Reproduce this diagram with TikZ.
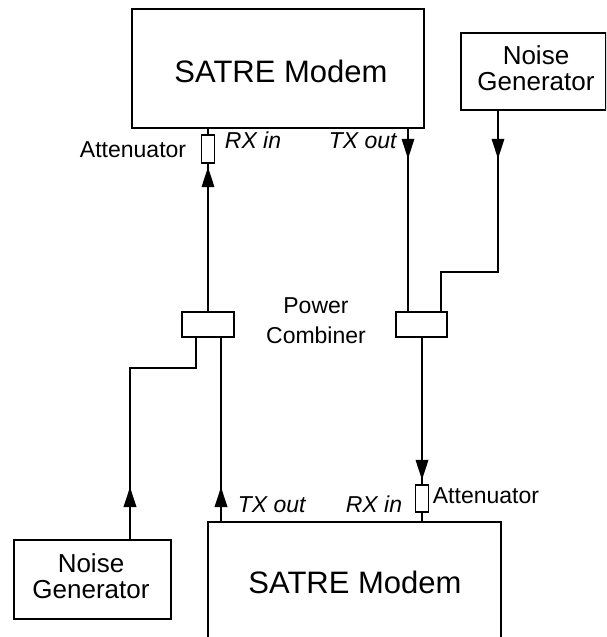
\documentclass[tikz,border=0pt]{standalone}
\usepackage{fontspec}
\setmainfont{Liberation Sans}
\usetikzlibrary{arrows.meta,decorations.markings}
\tikzset{
  box/.style={draw, rectangle, inner sep=0pt, anchor=north west},
  smallbox/.style={draw, rectangle, inner sep=0pt, fill=white},
  lbl/.style={inner sep=0pt, font=\fontsize{23}{30}\selectfont},
  ilbl/.style={inner sep=0pt, font=\fontsize{23}{30}\selectfont\itshape},
  bigtxt/.style={inner sep=0pt, font=\fontsize{31}{36}\selectfont},
  ngtxt/.style={inner sep=0pt, align=center, font=\fontsize{26}{26}\selectfont},
  arrowat/.style={postaction={decorate},
    decoration={markings, mark=at position #1 with {\arrow{Triangle[width=12.5pt,length=20pt]}}}}
}
\begin{document}
\begin{tikzpicture}[x=1pt,y=-1pt,line width=1.8pt]
\clip (0,0) rectangle (606,637);
% boxes
\node[box, minimum width=292pt, minimum height=119pt] (m1) at (131,8) {};
\node[box, minimum width=145pt, minimum height=77pt] (ng1) at (460,32) {};
\node[box, minimum width=293pt, minimum height=140pt] (m2) at (207,521) {};
\node[box, minimum width=157pt, minimum height=79pt] (ng2) at (13,539) {};
\node[smallbox, minimum width=13pt, minimum height=28pt] (att1) at (208,149) {};
\node[smallbox, minimum width=13pt, minimum height=27pt] (att2) at (422,498.5) {};
\node[smallbox, minimum width=52pt, minimum height=25pt] (comb1) at (208,324.5) {};
\node[smallbox, minimum width=51pt, minimum height=25pt] (comb2) at (421.5,324.5) {};
% ports and bends
\coordinate (c1a) at (196,337);
\coordinate (c1b) at (221,337);
\coordinate (c2a) at (408,312);
\coordinate (c2b) at (441,312);
\coordinate (bend1) at (498,272);
\coordinate (bend2) at (130,368);
% texts
\node[bigtxt, anchor=base] (t1) at (281,82) {SATRE Modem};
\node[bigtxt, anchor=base] (t2) at (355,593) {SATRE Modem};
\node[ngtxt, anchor=base] (t3) at (536,90) {Noise\\Generator};
\node[ngtxt, anchor=base] (t4) at (91,598) {Noise\\Generator};
\node[lbl, anchor=base east] (t5) at (187,157) {Attenuator};
\node[lbl, anchor=base west] (t6) at (432,503) {Attenuator};
\node[ilbl, anchor=base west] (t7) at (224,148) {RX in};
\node[ilbl, anchor=base west] (t8) at (328,148) {TX out};
\node[ilbl, anchor=base west] (t9) at (237,512) {TX out};
\node[ilbl, anchor=base east] (t10) at (403,512) {RX in};
\node[lbl, anchor=base, align=center] (t11) at (316,343) {Power\\Combiner};
% connectors
\draw (m1.south -| att1.north) -- (att1.north);
\draw[arrowat=144pt] (comb1.north) -- (att1.south);
\draw[arrowat=30pt] (m1.south -| c2a) -- (c2a);
\draw[arrowat=48pt] (ng1.south -| bend1) -- (bend1) -| (c2b);
\draw[arrowat=142pt] (comb2.south -| att2.north) -- (att2.north);
\draw (att2.south) -- (att2.south |- m2.north);
\draw[arrowat=34pt] (m2.north -| c1b) -- (c1b);
\draw[arrowat=52pt] (ng2.north -| bend2) -- (bend2) -| (c1a);
\end{tikzpicture}
\end{document}
